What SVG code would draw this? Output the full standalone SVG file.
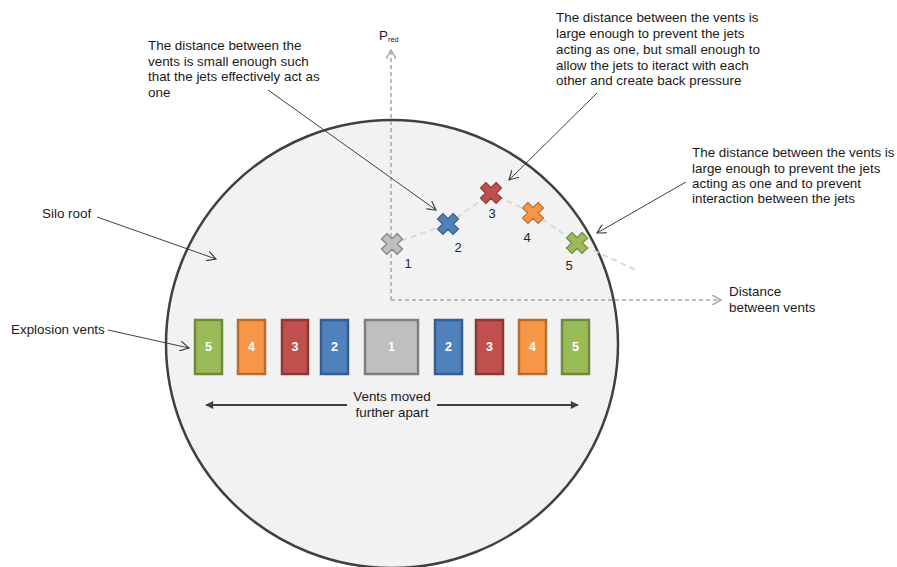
<svg xmlns="http://www.w3.org/2000/svg" width="897" height="567" viewBox="0 0 897 567">
<defs>
<style>
text{font-family:"Liberation Sans",Arial,sans-serif;font-size:13.4px;fill:#1a1a1a}
.num{fill:#ffffff;font-size:12.5px;font-weight:bold;text-anchor:middle}
.lbl{fill:#262626;font-size:13px;text-anchor:middle}
.ann{stroke:#404040;stroke-width:1;fill:none}
.axis{stroke:#a6a6a6;stroke-width:1.5;stroke-dasharray:4 3;fill:none}
.jet{stroke:#d9d9d9;stroke-width:2;stroke-dasharray:6 4;fill:none}
.g{fill:#9bbb59;stroke:#71893f}
.o{fill:#f79646;stroke:#b66d31}
.r{fill:#c0504d;stroke:#8c3836}
.b{fill:#4f81bd;stroke:#385d8a}
.y{fill:#bfbfbf;stroke:#7f7f7f}
.vent{stroke-width:2.5}
.x{stroke-width:1.2}
</style>
<marker id="open" viewBox="0 0 10 10" refX="9" refY="5" markerWidth="10" markerHeight="10" markerUnits="userSpaceOnUse" orient="auto">
<path d="M0,0 L9,5 L0,10" fill="none" stroke="#404040" stroke-width="1.2"/>
</marker>
<marker id="openGray" viewBox="0 0 10 10" refX="9" refY="5" markerWidth="10" markerHeight="10" markerUnits="userSpaceOnUse" orient="auto">
<path d="M0,0 L9,5 L0,10" fill="none" stroke="#a6a6a6" stroke-width="1.5"/>
</marker>
<marker id="solid" viewBox="0 0 10 10" refX="9" refY="5" markerWidth="10" markerHeight="8" markerUnits="userSpaceOnUse" orient="auto">
<path d="M0,0 L10,5 L0,10 Z" fill="#404040"/>
</marker>
<path id="cross" d="M-3.8,-11 L3.8,-11 L3.8,-3.8 L11,-3.8 L11,3.8 L3.8,3.8 L3.8,11 L-3.8,11 L-3.8,3.8 L-11,3.8 L-11,-3.8 L-3.8,-3.8 Z" transform="rotate(45)"/>
</defs>
<rect x="0" y="0" width="897" height="567" fill="#ffffff"/>

<g id="silo-roof">
<ellipse cx="392" cy="344" rx="226" ry="224" fill="#f2f2f2" stroke="#404040" stroke-width="2.5"/>
</g>

<g id="connectors">
<path class="axis" d="M391,300 L391,50" marker-end="url(#openGray)"/>
<path class="axis" d="M391,300 L721,300" marker-end="url(#openGray)"/>
<path class="jet" d="M392,244 L448,224 L491,193 L533,213 L577,243 L636,270"/>
<path class="ann" d="M268,90 L436,210" marker-end="url(#open)"/>
<path class="ann" d="M597,93 L509,180" marker-end="url(#open)"/>
<path class="ann" d="M686,182 L597,233" marker-end="url(#open)"/>
<path class="ann" d="M97,217 L216,259" marker-end="url(#open)"/>
<path class="ann" d="M108,330 L189,348" marker-end="url(#open)"/>
<path d="M347,405 L206,405" stroke="#404040" stroke-width="2" fill="none" marker-end="url(#solid)"/>
<path d="M437,405 L578,405" stroke="#404040" stroke-width="2" fill="none" marker-end="url(#solid)"/>
</g>

<g id="jets">
<use href="#cross" class="y x" transform="translate(392,244)"/>
<use href="#cross" class="b x" transform="translate(448,224)"/>
<use href="#cross" class="r x" transform="translate(491,193)"/>
<use href="#cross" class="o x" transform="translate(533,213)"/>
<use href="#cross" class="g x" transform="translate(577,243)"/>
<text class="lbl" x="408" y="268">1</text>
<text class="lbl" x="458" y="252">2</text>
<text class="lbl" x="492" y="218">3</text>
<text class="lbl" x="527" y="242">4</text>
<text class="lbl" x="569" y="270">5</text>
</g>

<g id="vents">
<rect class="g vent" x="195" y="320" width="27" height="54"/>
<rect class="o vent" x="238" y="320" width="27" height="54"/>
<rect class="r vent" x="282" y="320" width="26" height="54"/>
<rect class="b vent" x="321" y="320" width="27" height="54"/>
<rect class="y vent" x="365" y="320" width="53" height="54"/>
<rect class="b vent" x="435" y="320" width="27" height="54"/>
<rect class="r vent" x="476" y="320" width="27" height="54"/>
<rect class="o vent" x="519" y="320" width="27" height="54"/>
<rect class="g vent" x="562" y="320" width="27" height="54"/>
<text class="num" x="208.5" y="351">5</text>
<text class="num" x="251.5" y="351">4</text>
<text class="num" x="295" y="351">3</text>
<text class="num" x="334.5" y="351">2</text>
<text class="num" x="391.5" y="351">1</text>
<text class="num" x="448.5" y="351">2</text>
<text class="num" x="489.5" y="351">3</text>
<text class="num" x="532.5" y="351">4</text>
<text class="num" x="575.5" y="351">5</text>
</g>

<g id="label-vents-moved">
<text x="392" y="401" text-anchor="middle">Vents moved</text>
<text x="392" y="417" text-anchor="middle">further apart</text>
</g>

<g id="label-pred">
<text x="379" y="40">P<tspan font-size="7.5" dy="2">red</tspan></text>
</g>

<g id="label-distance">
<text x="729" y="296">Distance</text>
<text x="729" y="312">between vents</text>
</g>

<g id="label-silo-roof">
<text x="42" y="218">Silo roof</text>
</g>

<g id="label-explosion-vents">
<text x="11" y="334">Explosion vents</text>
</g>

<g id="note-act-as-one">
<text x="148" y="50">The distance between the</text>
<text x="148" y="66">vents is small enough such</text>
<text x="148" y="81">that the jets effectively act as</text>
<text x="148" y="97">one</text>
</g>

<g id="note-back-pressure">
<text x="556" y="22">The distance between the vents is</text>
<text x="556" y="38">large enough to prevent the jets</text>
<text x="556" y="54">acting as one, but small enough to</text>
<text x="556" y="70">allow the jets to iteract with each</text>
<text x="556" y="85">other and create back pressure</text>
</g>

<g id="note-no-interaction">
<text x="692" y="157">The distance between the vents is</text>
<text x="692" y="173">large enough to prevent the jets</text>
<text x="692" y="188">acting as one and to prevent</text>
<text x="692" y="203">interaction between the jets</text>
</g>
</svg>
